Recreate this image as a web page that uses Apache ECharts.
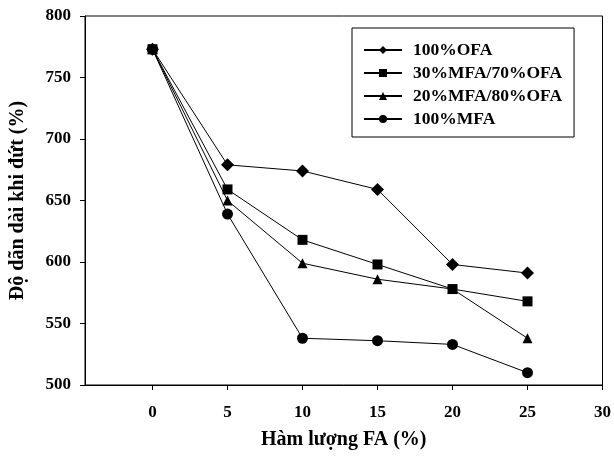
<!DOCTYPE html>
<html>
<head>
<meta charset="utf-8">
<script src="https://cdn.jsdelivr.net/npm/echarts@6/dist/echarts.min.js"></script>
<style>
  html, body { margin: 0; padding: 0; background: #fff; }
  #chart { width: 614px; height: 459px; }
</style>
</head>
<body>
<div id="chart"></div>
<script>
// hàm lượng FA (%)
var xValues = [0, 5, 10, 15, 20, 25];
var xTicks = [0, 5, 10, 15, 20, 25, 30];

var names = ['100%OFA', '30%MFA/70%OFA', '20%MFA/80%OFA', '100%MFA'];
var ofa100 = [773, 679, 674, 659, 598, 591];
var mfa30 = [773, 659, 618, 598, 578, 568];
var mfa20 = [773, 650, 599, 586, 578, 538];
var mfa100 = [773, 639, 538, 536, 533, 510];

var symbols = ['diamond', 'rect', 'triangle', 'circle'];
var sizes = [13, 10, 10, 11];

var font = '"Liberation Serif", "Times New Roman", serif';

function pairs(vals) {
  return vals.map(function (v, i) { return [xValues[i], v]; });
}

var myChart = echarts.init(document.getElementById('chart'));

var seriesData = [ofa100, mfa30, mfa20, mfa100];

var option = {
  animation: false,
  backgroundColor: '#fff',
  grid: {
    left: 82, right: 10, top: 16, bottom: 74,
    show: true, borderColor: '#000', borderWidth: 1
  },
  legend: {
    orient: 'vertical',
    left: 352, top: 28,
    data: names,
    borderColor: '#000', borderWidth: 1,
    padding: [13, 12, 9, 11],
    itemWidth: 38, itemHeight: 10, itemGap: 5,
    textStyle: {
      fontFamily: font, fontWeight: 'bold', fontSize: 17.5, color: '#000',
      padding: [0, 0, 0, 6]
    }
  },
  xAxis: {
    type: 'value',
    min: -4.5, max: 30,
    name: 'Hàm lượng FA (%)',
    nameLocation: 'middle',
    nameGap: 45,
    nameTextStyle: { fontFamily: font, fontWeight: 'bold', fontSize: 20, color: '#000' },
    axisLine: { onZero: false, lineStyle: { color: '#000', width: 1 } },
    axisTick: { show: true, length: 5, inside: false, customValues: xTicks, lineStyle: { color: '#000' } },
    axisLabel: { customValues: xTicks, margin: 19, fontFamily: font, fontWeight: 'bold', fontSize: 17, color: '#000' },
    splitLine: { show: false }
  },
  yAxis: {
    type: 'value',
    min: 500, max: 800, interval: 50,
    name: 'Độ dãn dài khi đứt (%)',
    nameLocation: 'middle',
    nameGap: 57,
    nameTextStyle: { fontFamily: font, fontWeight: 'bold', fontSize: 20, color: '#000' },
    axisLine: { show: true, onZero: false, lineStyle: { color: '#000', width: 1 } },
    axisTick: { show: true, length: 5, lineStyle: { color: '#000' } },
    axisLabel: { margin: 14, fontFamily: font, fontWeight: 'bold', fontSize: 17, color: '#000' },
    splitLine: { show: false }
  },
  series: names.map(function (n, i) {
    return {
      name: n,
      type: 'line',
      data: pairs(seriesData[i]),
      symbol: symbols[i],
      symbolSize: sizes[i],
      showAllSymbol: true,
      color: '#000',
      lineStyle: { color: '#000', width: 1 },
      itemStyle: { color: '#000' },
      z: 10 - i
    };
  })
};

myChart.setOption(option);
</script>
</body>
</html>
